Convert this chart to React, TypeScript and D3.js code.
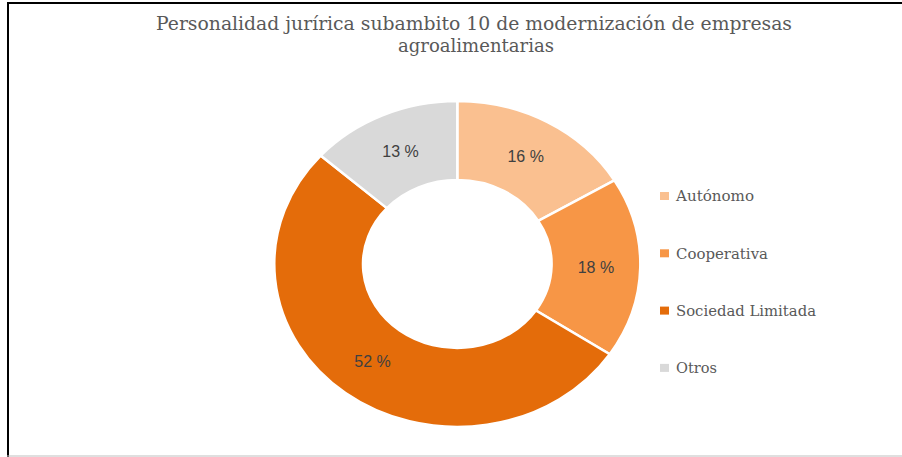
import React from "react";
import * as d3 from "d3";

const titleLines = [
  "Personalidad jurírica subambito 10 de modernización de empresas",
  "agroalimentarias",
];
const categories = ["Autónomo", "Cooperativa", "Sociedad Limitada", "Otros"];
const values = [16.4, 17.9, 52.2, 13.4];
const colors = ["#FAC090", "#F79646", "#E46C0A", "#D9D9D9"];

const W = 902;
const H = 457;

export default function App() {
  const cx = 457.3;
  const cy = 264;
  const ry = 163;
  const rx = 183;
  const sx = rx / ry;
  const inner = 84;

  const pie = d3.pie<number>().sort(null).value((d) => d)(values);
  const arc = d3.arc<d3.PieArcDatum<number>>().innerRadius(inner).outerRadius(ry);

  const legendX = 660;
  const legendY0 = 196;
  const legendStep = 57.3;
  const legendWidths = [78, 92, 140, 41];

  return (
    <svg
      width={W}
      height={H}
      style={{ position: "absolute", left: 0, top: 0, background: "#fff" }}
    >
      <rect x={0} y={0} width={W} height={H} fill="#fff" />
      {/* frame */}
      <line x1={7} x2={W} y1={3} y2={3} stroke="#000" strokeWidth={2} />
      <line x1={8} x2={8} y1={2} y2={H} stroke="#000" strokeWidth={2} />
      <line x1={7} x2={W} y1={456} y2={456} stroke="#BFBFBF" strokeWidth={1} />

      {/* title */}
      <text
        x={474}
        y={30}
        textAnchor="middle"
        fontFamily="'DejaVu Serif', serif"
        fontSize={18.5}
        fill="#595959"
        textLength={636}
        lengthAdjust="spacingAndGlyphs"
      >
        {titleLines[0]}
      </text>
      <text
        x={476}
        y={52}
        textAnchor="middle"
        fontFamily="'DejaVu Serif', serif"
        fontSize={18.5}
        fill="#595959"
        textLength={156}
        lengthAdjust="spacingAndGlyphs"
      >
        {titleLines[1]}
      </text>

      {/* donut */}
      <g transform={`translate(${cx},${cy}) scale(${sx},1)`}>
        {pie.map((p, i) => (
          <path
            key={i}
            d={arc(p) || ""}
            fill={colors[i]}
            stroke="#fff"
            strokeWidth={2.5}
            vectorEffect="non-scaling-stroke"
          />
        ))}
      </g>
      {pie.map((p, i) => {
        const [x, y] = arc.centroid(p);
        return (
          <text
            key={i}
            x={cx + x * sx}
            y={cy + y}
            dy="0.35em"
            textAnchor="middle"
            fontFamily="'Liberation Sans', sans-serif"
            fontSize={16}
            fill="#404040"
          >
            {`${Math.round(values[i])} %`}
          </text>
        );
      })}

      {/* legend */}
      {categories.map((c, i) => {
        const y = legendY0 + i * legendStep;
        return (
          <g key={c}>
            <rect x={legendX} y={y - 4} width={9} height={8} fill={colors[i]} />
            <text
              x={676}
              y={y}
              dy="0.35em"
              fontFamily="'DejaVu Serif', serif"
              fontSize={15}
              fill="#595959"
              textLength={legendWidths[i]}
              lengthAdjust="spacingAndGlyphs"
            >
              {c}
            </text>
          </g>
        );
      })}
    </svg>
  );
}
